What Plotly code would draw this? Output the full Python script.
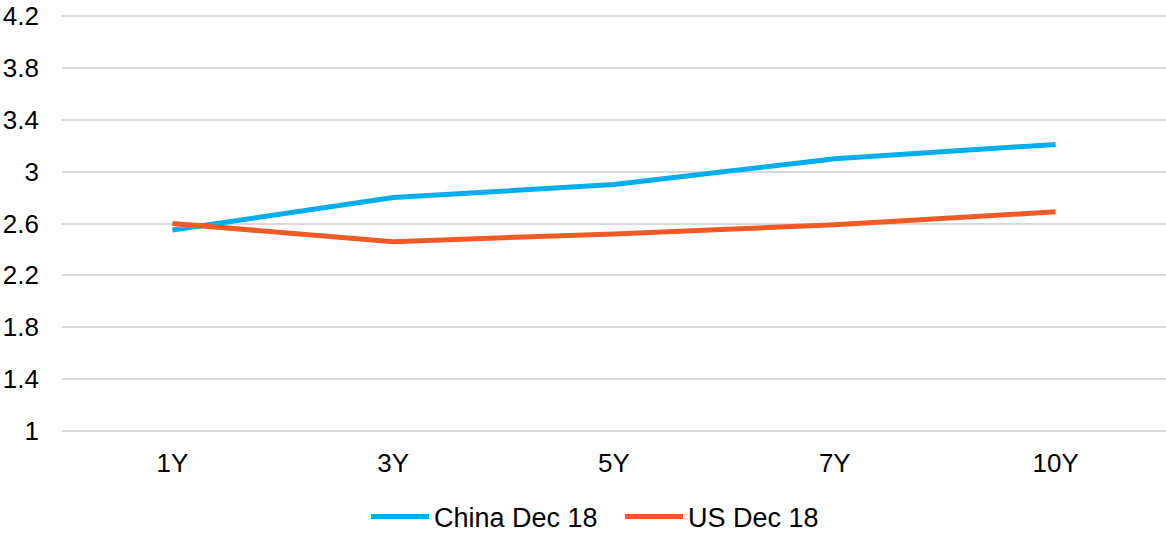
import plotly.graph_objects as go

categories = ["1Y", "3Y", "5Y", "7Y", "10Y"]
china_dec18 = [2.55, 2.80, 2.90, 3.10, 3.21]
us_dec18 = [2.60, 2.46, 2.52, 2.59, 2.69]
y_ticks = [1, 1.4, 1.8, 2.2, 2.6, 3, 3.4, 3.8, 4.2]
y_tick_labels = ["1", "1.4", "1.8", "2.2", "2.6", "3", "3.4", "3.8", "4.2"]

BLUE = "#00ADEE"
ORANGE = "#F15A24"
FONT = "Liberation Sans, Arial, sans-serif"

fig = go.Figure()
fig.add_trace(go.Scatter(x=categories, y=china_dec18, mode="lines", name="China Dec 18",
                         line=dict(color=BLUE, width=5)))
fig.add_trace(go.Scatter(x=categories, y=us_dec18, mode="lines", name="US Dec 18",
                         line=dict(color=ORANGE, width=5)))

fig.update_layout(
    width=1166, height=533,
    margin=dict(l=62, r=0, t=14, b=100, autoexpand=False),
    paper_bgcolor="white", plot_bgcolor="white",
    font=dict(family=FONT, size=26, color="black"),
    showlegend=True,
    legend=dict(orientation="h", x=0.2754, xanchor="left",
                yref="container", y=0.03, yanchor="middle",
                font=dict(size=27), itemwidth=58, tracegroupgap=0,
                entrywidth=181, entrywidthmode="pixels"),
    xaxis=dict(type="category", range=[-0.5, 4.5], showgrid=False, showline=False,
               zeroline=False, ticks="", ticklabelstandoff=12, fixedrange=True),
    yaxis=dict(range=[0.9846, 4.2154], tickvals=y_ticks, ticktext=y_tick_labels,
               showgrid=True, gridcolor="#D9D9D9", gridwidth=1.5, zeroline=False,
               showline=False, ticks="", ticklabelstandoff=22, fixedrange=True),
)

fig.write_html("out.html", config={"displayModeBar": False},
               post_script="document.body.style.margin='0';document.body.style.overflow='hidden';")
